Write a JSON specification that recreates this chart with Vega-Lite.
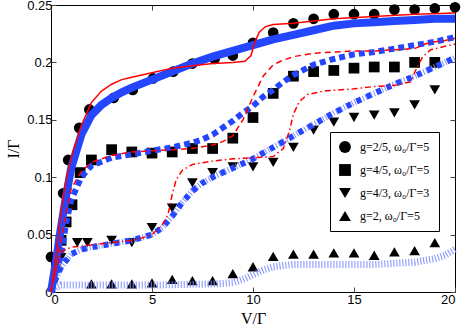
{
 "$schema": "https://vega.github.io/schema/vega-lite/v6.json",
 "width": 404, "height": 287,
 "autosize": "none",
 "padding": {"left": 51, "top": 5, "right": 8, "bottom": 35},
 "background": "white",
 "config": {
  "view": {"stroke": "black", "strokeWidth": 1},
  "axis": {"domain": false, "grid": false, "tickSize": -5, "tickColor": "#444", "labelFont": "Liberation Sans", "labelFontSize": 13, "labelColor": "black", "titleFont": "Liberation Serif", "titleFontSize": 16, "titleFontWeight": "normal", "titleColor": "black", "labelPadding": 4},
  "legend": {"symbolFillColor": "black", "symbolStrokeWidth": 0}
 },
 "datasets": {
  "lines": [
   {"s":"blue25","V":0,"I":0},{"s":"blue25","V":0.25,"I":0.027},{"s":"blue25","V":0.5,"I":0.057},{"s":"blue25","V":0.75,"I":0.084},{"s":"blue25","V":1,"I":0.108},{"s":"blue25","V":1.5,"I":0.137},{"s":"blue25","V":2,"I":0.154},{"s":"blue25","V":2.5,"I":0.163},{"s":"blue25","V":3,"I":0.169},{"s":"blue25","V":3.5,"I":0.174},{"s":"blue25","V":4,"I":0.178},{"s":"blue25","V":5,"I":0.185},{"s":"blue25","V":6,"I":0.192},{"s":"blue25","V":7,"I":0.199},{"s":"blue25","V":8,"I":0.205},{"s":"blue25","V":9,"I":0.210},{"s":"blue25","V":10,"I":0.215},{"s":"blue25","V":11,"I":0.220},{"s":"blue25","V":12,"I":0.224},{"s":"blue25","V":13,"I":0.228},{"s":"blue25","V":14,"I":0.232},{"s":"blue25","V":15,"I":0.234},{"s":"blue25","V":16,"I":0.235},{"s":"blue25","V":17,"I":0.236},{"s":"blue25","V":18,"I":0.237},{"s":"blue25","V":19,"I":0.238},{"s":"blue25","V":20,"I":0.238},
   {"s":"red25","V":0,"I":0},{"s":"red25","V":0.25,"I":0.032},{"s":"red25","V":0.5,"I":0.07},{"s":"red25","V":0.75,"I":0.098},{"s":"red25","V":1,"I":0.117},{"s":"red25","V":1.5,"I":0.145},{"s":"red25","V":2,"I":0.165},{"s":"red25","V":2.5,"I":0.175},{"s":"red25","V":3,"I":0.181},{"s":"red25","V":3.5,"I":0.185},{"s":"red25","V":4,"I":0.187},{"s":"red25","V":5,"I":0.191},{"s":"red25","V":6,"I":0.195},{"s":"red25","V":7,"I":0.197},{"s":"red25","V":8,"I":0.199},{"s":"red25","V":9,"I":0.200},{"s":"red25","V":9.6,"I":0.201},{"s":"red25","V":9.9,"I":0.206},{"s":"red25","V":10.1,"I":0.218},{"s":"red25","V":10.3,"I":0.226},{"s":"red25","V":10.6,"I":0.231},{"s":"red25","V":11,"I":0.233},{"s":"red25","V":12,"I":0.234},{"s":"red25","V":14,"I":0.238},{"s":"red25","V":16,"I":0.240},{"s":"red25","V":18,"I":0.242},{"s":"red25","V":20,"I":0.243},
   {"s":"blue45","V":0,"I":0},{"s":"blue45","V":0.25,"I":0.015},{"s":"blue45","V":0.5,"I":0.033},{"s":"blue45","V":0.75,"I":0.06},{"s":"blue45","V":1,"I":0.08},{"s":"blue45","V":1.5,"I":0.1},{"s":"blue45","V":2,"I":0.11},{"s":"blue45","V":3,"I":0.117},{"s":"blue45","V":4,"I":0.12},{"s":"blue45","V":5,"I":0.123},{"s":"blue45","V":6,"I":0.126},{"s":"blue45","V":7,"I":0.13},{"s":"blue45","V":7.5,"I":0.133},{"s":"blue45","V":8,"I":0.137},{"s":"blue45","V":8.5,"I":0.143},{"s":"blue45","V":9,"I":0.149},{"s":"blue45","V":9.5,"I":0.156},{"s":"blue45","V":10,"I":0.162},{"s":"blue45","V":10.5,"I":0.17},{"s":"blue45","V":11,"I":0.176},{"s":"blue45","V":11.5,"I":0.183},{"s":"blue45","V":12,"I":0.189},{"s":"blue45","V":13,"I":0.198},{"s":"blue45","V":14,"I":0.203},{"s":"blue45","V":15,"I":0.207},{"s":"blue45","V":16,"I":0.209},{"s":"blue45","V":17,"I":0.212},{"s":"blue45","V":18,"I":0.215},{"s":"blue45","V":19,"I":0.218},{"s":"blue45","V":20,"I":0.222},
   {"s":"red45","V":0,"I":0},{"s":"red45","V":0.25,"I":0.02},{"s":"red45","V":0.5,"I":0.045},{"s":"red45","V":0.75,"I":0.07},{"s":"red45","V":1,"I":0.09},{"s":"red45","V":1.5,"I":0.105},{"s":"red45","V":2,"I":0.113},{"s":"red45","V":3,"I":0.119},{"s":"red45","V":4,"I":0.122},{"s":"red45","V":5,"I":0.123},{"s":"red45","V":6,"I":0.124},{"s":"red45","V":7,"I":0.125},{"s":"red45","V":8,"I":0.128},{"s":"red45","V":8.5,"I":0.131},{"s":"red45","V":9,"I":0.136},{"s":"red45","V":9.5,"I":0.15},{"s":"red45","V":10,"I":0.17},{"s":"red45","V":10.5,"I":0.188},{"s":"red45","V":11,"I":0.198},{"s":"red45","V":11.5,"I":0.202},{"s":"red45","V":12,"I":0.205},{"s":"red45","V":13,"I":0.208},{"s":"red45","V":14,"I":0.209},{"s":"red45","V":15,"I":0.21},{"s":"red45","V":16,"I":0.21},{"s":"red45","V":17,"I":0.211},{"s":"red45","V":18,"I":0.212},{"s":"red45","V":18.5,"I":0.216},{"s":"red45","V":19,"I":0.218},{"s":"red45","V":19.5,"I":0.219},{"s":"red45","V":20,"I":0.221},
   {"s":"blue43","V":0,"I":0},{"s":"blue43","V":0.25,"I":0.012},{"s":"blue43","V":0.5,"I":0.022},{"s":"blue43","V":1,"I":0.033},{"s":"blue43","V":1.5,"I":0.037},{"s":"blue43","V":2,"I":0.039},{"s":"blue43","V":3,"I":0.042},{"s":"blue43","V":4,"I":0.045},{"s":"blue43","V":5,"I":0.05},{"s":"blue43","V":5.5,"I":0.056},{"s":"blue43","V":6,"I":0.066},{"s":"blue43","V":6.5,"I":0.078},{"s":"blue43","V":7,"I":0.088},{"s":"blue43","V":7.5,"I":0.095},{"s":"blue43","V":8,"I":0.1},{"s":"blue43","V":9,"I":0.108},{"s":"blue43","V":10,"I":0.116},{"s":"blue43","V":11,"I":0.126},{"s":"blue43","V":12,"I":0.136},{"s":"blue43","V":13,"I":0.146},{"s":"blue43","V":14,"I":0.156},{"s":"blue43","V":15,"I":0.165},{"s":"blue43","V":16,"I":0.173},{"s":"blue43","V":17,"I":0.181},{"s":"blue43","V":18,"I":0.188},{"s":"blue43","V":19,"I":0.196},{"s":"blue43","V":20,"I":0.204},
   {"s":"red43","V":0,"I":0},{"s":"red43","V":0.25,"I":0.02},{"s":"red43","V":0.5,"I":0.035},{"s":"red43","V":1,"I":0.039},{"s":"red43","V":2,"I":0.041},{"s":"red43","V":3,"I":0.043},{"s":"red43","V":4,"I":0.045},{"s":"red43","V":4.5,"I":0.047},{"s":"red43","V":5,"I":0.05},{"s":"red43","V":5.5,"I":0.058},{"s":"red43","V":5.8,"I":0.068},{"s":"red43","V":6,"I":0.085},{"s":"red43","V":6.2,"I":0.098},{"s":"red43","V":6.5,"I":0.106},{"s":"red43","V":7,"I":0.111},{"s":"red43","V":8,"I":0.114},{"s":"red43","V":9,"I":0.116},{"s":"red43","V":10,"I":0.117},{"s":"red43","V":11,"I":0.118},{"s":"red43","V":11.5,"I":0.125},{"s":"red43","V":11.8,"I":0.14},{"s":"red43","V":12,"I":0.155},{"s":"red43","V":12.3,"I":0.166},{"s":"red43","V":12.7,"I":0.172},{"s":"red43","V":13.5,"I":0.175},{"s":"red43","V":15,"I":0.177},{"s":"red43","V":16,"I":0.179},{"s":"red43","V":17,"I":0.18},{"s":"red43","V":17.8,"I":0.183},{"s":"red43","V":18.1,"I":0.195},{"s":"red43","V":18.4,"I":0.205},{"s":"red43","V":18.8,"I":0.211},{"s":"red43","V":19.5,"I":0.214},{"s":"red43","V":20,"I":0.216},
   {"s":"blue2","V":0,"I":0},{"s":"blue2","V":0.25,"I":0.004},{"s":"blue2","V":0.5,"I":0.006},{"s":"blue2","V":2,"I":0.006},{"s":"blue2","V":5,"I":0.006},{"s":"blue2","V":8,"I":0.007},{"s":"blue2","V":9,"I":0.008},{"s":"blue2","V":9.5,"I":0.011},{"s":"blue2","V":10,"I":0.015},{"s":"blue2","V":10.5,"I":0.019},{"s":"blue2","V":11,"I":0.022},{"s":"blue2","V":12,"I":0.024},{"s":"blue2","V":14,"I":0.024},{"s":"blue2","V":16,"I":0.024},{"s":"blue2","V":17,"I":0.025},{"s":"blue2","V":18,"I":0.026},{"s":"blue2","V":19,"I":0.029},{"s":"blue2","V":19.5,"I":0.032},{"s":"blue2","V":20,"I":0.037}
  ],
  "pts": [
   {"g":"g=2/5, ω₀/Γ=5","V":0,"I":0.0305},{"g":"g=2/5, ω₀/Γ=5","V":0.6,"I":0.086},{"g":"g=2/5, ω₀/Γ=5","V":0.85,"I":0.115},{"g":"g=2/5, ω₀/Γ=5","V":1.4,"I":0.143},{"g":"g=2/5, ω₀/Γ=5","V":1.9,"I":0.159},{"g":"g=2/5, ω₀/Γ=5","V":3.1,"I":0.169},{"g":"g=2/5, ω₀/Γ=5","V":4.05,"I":0.176},{"g":"g=2/5, ω₀/Γ=5","V":5.05,"I":0.186},{"g":"g=2/5, ω₀/Γ=5","V":6.05,"I":0.192},{"g":"g=2/5, ω₀/Γ=5","V":7,"I":0.199},{"g":"g=2/5, ω₀/Γ=5","V":8.1,"I":0.203},{"g":"g=2/5, ω₀/Γ=5","V":9,"I":0.206},{"g":"g=2/5, ω₀/Γ=5","V":10,"I":0.217},{"g":"g=2/5, ω₀/Γ=5","V":11,"I":0.226},{"g":"g=2/5, ω₀/Γ=5","V":12,"I":0.234},{"g":"g=2/5, ω₀/Γ=5","V":13,"I":0.238},{"g":"g=2/5, ω₀/Γ=5","V":14,"I":0.242},{"g":"g=2/5, ω₀/Γ=5","V":15,"I":0.242},{"g":"g=2/5, ω₀/Γ=5","V":16,"I":0.242},{"g":"g=2/5, ω₀/Γ=5","V":17,"I":0.246},{"g":"g=2/5, ω₀/Γ=5","V":18,"I":0.246},{"g":"g=2/5, ω₀/Γ=5","V":19,"I":0.247},{"g":"g=2/5, ω₀/Γ=5","V":20,"I":0.248},
   {"g":"g=4/5, ω₀/Γ=5","V":0.5,"I":0.045},{"g":"g=4/5, ω₀/Γ=5","V":0.75,"I":0.061},{"g":"g=4/5, ω₀/Γ=5","V":1.04,"I":0.076},{"g":"g=4/5, ω₀/Γ=5","V":1.44,"I":0.104},{"g":"g=4/5, ω₀/Γ=5","V":2,"I":0.115},{"g":"g=4/5, ω₀/Γ=5","V":3,"I":0.124},{"g":"g=4/5, ω₀/Γ=5","V":4,"I":0.122},{"g":"g=4/5, ω₀/Γ=5","V":5,"I":0.121},{"g":"g=4/5, ω₀/Γ=5","V":6,"I":0.122},{"g":"g=4/5, ω₀/Γ=5","V":7,"I":0.125},{"g":"g=4/5, ω₀/Γ=5","V":8,"I":0.125},{"g":"g=4/5, ω₀/Γ=5","V":9,"I":0.134},{"g":"g=4/5, ω₀/Γ=5","V":10,"I":0.152},{"g":"g=4/5, ω₀/Γ=5","V":11,"I":0.173},{"g":"g=4/5, ω₀/Γ=5","V":12,"I":0.188},{"g":"g=4/5, ω₀/Γ=5","V":13,"I":0.192},{"g":"g=4/5, ω₀/Γ=5","V":14,"I":0.193},{"g":"g=4/5, ω₀/Γ=5","V":15,"I":0.195},{"g":"g=4/5, ω₀/Γ=5","V":16,"I":0.196},{"g":"g=4/5, ω₀/Γ=5","V":17,"I":0.196},{"g":"g=4/5, ω₀/Γ=5","V":18,"I":0.2},{"g":"g=4/5, ω₀/Γ=5","V":19,"I":0.2},
   {"g":"g=4/3, ω₀/Γ=3","V":0.25,"I":0.02},{"g":"g=4/3, ω₀/Γ=3","V":0.5,"I":0.03},{"g":"g=4/3, ω₀/Γ=3","V":1.3,"I":0.043},{"g":"g=4/3, ω₀/Γ=3","V":1.8,"I":0.043},{"g":"g=4/3, ω₀/Γ=3","V":3,"I":0.045},{"g":"g=4/3, ω₀/Γ=3","V":4,"I":0.043},{"g":"g=4/3, ω₀/Γ=3","V":5,"I":0.056},{"g":"g=4/3, ω₀/Γ=3","V":6,"I":0.073},{"g":"g=4/3, ω₀/Γ=3","V":7,"I":0.095},{"g":"g=4/3, ω₀/Γ=3","V":8,"I":0.104},{"g":"g=4/3, ω₀/Γ=3","V":9,"I":0.109},{"g":"g=4/3, ω₀/Γ=3","V":10,"I":0.109},{"g":"g=4/3, ω₀/Γ=3","V":11,"I":0.113},{"g":"g=4/3, ω₀/Γ=3","V":12,"I":0.126},{"g":"g=4/3, ω₀/Γ=3","V":13,"I":0.141},{"g":"g=4/3, ω₀/Γ=3","V":14,"I":0.148},{"g":"g=4/3, ω₀/Γ=3","V":15,"I":0.152},{"g":"g=4/3, ω₀/Γ=3","V":16,"I":0.154},{"g":"g=4/3, ω₀/Γ=3","V":17,"I":0.156},{"g":"g=4/3, ω₀/Γ=3","V":18,"I":0.163},{"g":"g=4/3, ω₀/Γ=3","V":19,"I":0.176},
   {"g":"g=2, ω₀/Γ=5","V":2,"I":0.007},{"g":"g=2, ω₀/Γ=5","V":3,"I":0.007},{"g":"g=2, ω₀/Γ=5","V":4,"I":0.007},{"g":"g=2, ω₀/Γ=5","V":5,"I":0.008},{"g":"g=2, ω₀/Γ=5","V":6,"I":0.011},{"g":"g=2, ω₀/Γ=5","V":7,"I":0.01},{"g":"g=2, ω₀/Γ=5","V":8,"I":0.01},{"g":"g=2, ω₀/Γ=5","V":9,"I":0.016},{"g":"g=2, ω₀/Γ=5","V":10,"I":0.022},{"g":"g=2, ω₀/Γ=5","V":11,"I":0.031},{"g":"g=2, ω₀/Γ=5","V":12,"I":0.033},{"g":"g=2, ω₀/Γ=5","V":13,"I":0.033},{"g":"g=2, ω₀/Γ=5","V":14,"I":0.034},{"g":"g=2, ω₀/Γ=5","V":15,"I":0.034},{"g":"g=2, ω₀/Γ=5","V":16,"I":0.032},{"g":"g=2, ω₀/Γ=5","V":17,"I":0.035},{"g":"g=2, ω₀/Γ=5","V":18,"I":0.036},{"g":"g=2, ω₀/Γ=5","V":19,"I":0.043}
  ]
 },
 "layer": [
  {
   "data": {"name": "pts"},
   "mark": {"type": "point", "filled": true, "opacity": 1, "size": 115, "clip": false},
   "encoding": {
    "x": {"field": "V", "type": "quantitative", "scale": {"domain": [0, 20], "nice": false}, "axis": {"values": [0, 5, 10, 15, 20], "title": "V/Γ", "titlePadding": 4, "labelPadding": 6}},
    "y": {"field": "I", "type": "quantitative", "scale": {"domain": [0, 0.25], "nice": false}, "axis": {"values": [0, 0.05, 0.1, 0.15, 0.2, 0.25], "format": "~g", "title": "I/Γ", "titlePadding": 5, "labelPadding": 4}},
    "shape": {"field": "g", "type": "nominal", "sort": null,
     "scale": {"domain": ["g=2/5, ω₀/Γ=5", "g=4/5, ω₀/Γ=5", "g=4/3, ω₀/Γ=3", "g=2, ω₀/Γ=5"], "range": ["circle", "square", "triangle-down", "triangle-up"]},
     "legend": {"title": null, "orient": "none", "legendX": 279, "legendY": 127, "padding": 9, "strokeColor": "black", "fillColor": "white", "symbolSize": 140, "labelFont": "Liberation Serif", "labelFontSize": 12, "labelColor": "black", "rowPadding": 11, "labelOffset": 9}},
    "color": {"value": "black"}
   }
  },
  {
   "data": {"name": "lines"},
   "transform": [{"filter": "datum.s === 'blue2'"}],
   "mark": {"type": "line", "color": "#7d8eff", "strokeWidth": 7, "strokeDash": [1, 2]},
   "encoding": {
    "x": {"field": "V", "type": "quantitative", "axis": {"orient": "top", "values": [0, 5, 10, 15, 20], "labels": false, "title": null}},
    "y": {"field": "I", "type": "quantitative", "axis": {"orient": "right", "values": [0, 0.05, 0.1, 0.15, 0.2, 0.25], "labels": false, "title": null}}
   }
  },
  {
   "data": {"name": "lines"},
   "transform": [{"filter": "datum.s === 'blue43'"}],
   "mark": {"type": "line", "color": "#7d8eff", "strokeWidth": 6, "strokeDash": [1, 2]},
   "encoding": {"x": {"field": "V", "type": "quantitative", "axis": null}, "y": {"field": "I", "type": "quantitative", "axis": null}}
  },
  {
   "data": {"name": "lines"},
   "transform": [{"filter": "datum.s === 'blue43'"}],
   "mark": {"type": "line", "color": "#2446ff", "strokeWidth": 6, "strokeDash": [5, 6]},
   "encoding": {"x": {"field": "V", "type": "quantitative", "axis": null}, "y": {"field": "I", "type": "quantitative", "axis": null}}
  },
  {
   "data": {"name": "lines"},
   "transform": [{"filter": "datum.s === 'blue45'"}],
   "mark": {"type": "line", "color": "#2446ff", "strokeWidth": 6, "strokeDash": [6, 4]},
   "encoding": {"x": {"field": "V", "type": "quantitative", "axis": null}, "y": {"field": "I", "type": "quantitative", "axis": null}}
  },
  {
   "data": {"name": "lines"},
   "transform": [{"filter": "datum.s === 'blue25'"}],
   "mark": {"type": "line", "color": "#2446ff", "strokeWidth": 8},
   "encoding": {"x": {"field": "V", "type": "quantitative", "axis": null}, "y": {"field": "I", "type": "quantitative", "axis": null}}
  },
  {
   "data": {"name": "lines"},
   "transform": [{"filter": "datum.s === 'red43'"}],
   "mark": {"type": "line", "color": "#ff0000", "strokeWidth": 1.5, "strokeDash": [6, 3, 1.5, 3]},
   "encoding": {"x": {"field": "V", "type": "quantitative", "axis": null}, "y": {"field": "I", "type": "quantitative", "axis": null}}
  },
  {
   "data": {"name": "lines"},
   "transform": [{"filter": "datum.s === 'red45'"}],
   "mark": {"type": "line", "color": "#ff0000", "strokeWidth": 1.5, "strokeDash": [6, 4]},
   "encoding": {"x": {"field": "V", "type": "quantitative", "axis": null}, "y": {"field": "I", "type": "quantitative", "axis": null}}
  },
  {
   "data": {"name": "lines"},
   "transform": [{"filter": "datum.s === 'red25'"}],
   "mark": {"type": "line", "color": "#ff0000", "strokeWidth": 1.5},
   "encoding": {"x": {"field": "V", "type": "quantitative", "axis": null}, "y": {"field": "I", "type": "quantitative", "axis": null}}
  }
 ],
 "resolve": {"axis": {"x": "independent", "y": "independent"}}
}
